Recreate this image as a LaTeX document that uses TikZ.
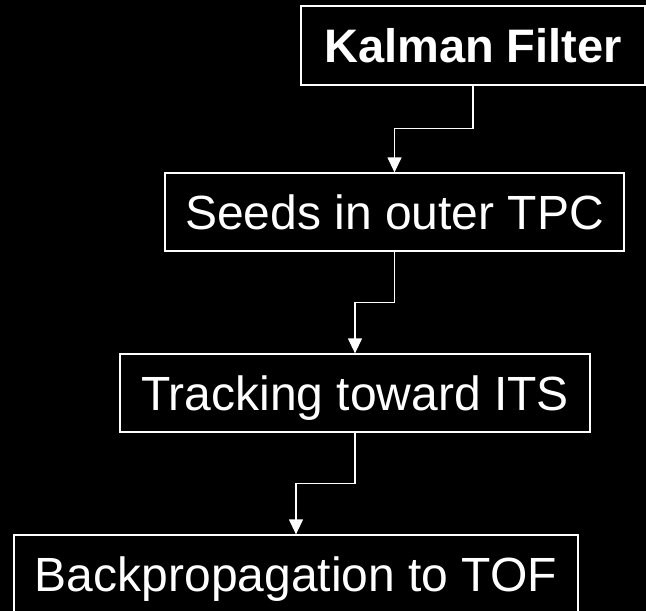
\documentclass[tikz,border=0pt]{standalone}
\usepackage{fontspec}
\setmainfont{Liberation Sans}
\usetikzlibrary{arrows.meta}
\begin{document}
\begin{tikzpicture}[x=1pt,y=-1pt,
  stagebox/.style={draw=white,line width=1.3pt,fill=black,text=white,inner sep=0pt,
    font=\fontsize{48}{57}\selectfont,text height=34.4pt,text depth=0pt},
  link/.style={draw=white,line width=1.3pt,-{Triangle[width=14pt,length=15pt]}}]
\fill[black] (0,0) rectangle (646,611);
\useasboundingbox (0,0) rectangle (646,611);
\clip (0,0) rectangle (646,611);
\node[stagebox,minimum width=344pt,minimum height=79pt,font=\fontsize{47}{56}\selectfont\bfseries,text height=33.6pt] (A) at (473,45.5) {Kalman Filter};
\node[stagebox,minimum width=459pt,minimum height=78pt] (B) at (394.5,212) {Seeds in outer TPC};
\node[stagebox,minimum width=470pt,minimum height=78pt] (C) at (355,393) {Tracking toward ITS};
\node[stagebox,minimum width=564pt,minimum height=78pt] (D) at (296,574) {Backpropagation to TOF};
\draw[link] (A.south) -- ++(0,43) -| (B.north);
\draw[link] (B.south) -- ++(0,51) -| (C.north);
\draw[link] (C.south) -- ++(0,51) -| (D.north);
\end{tikzpicture}
\end{document}
